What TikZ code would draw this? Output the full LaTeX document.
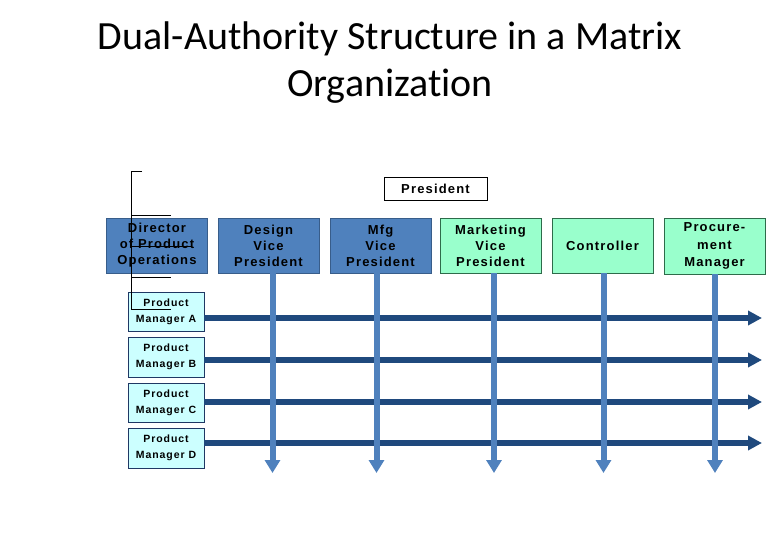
\documentclass[tikz,border=0pt]{standalone}
\usepackage{fontspec}
\usepackage{tikz}
\usetikzlibrary{positioning,calc,arrows.meta}
\usepackage{xcolor}
\newfontfamily\titlefont[Ligatures={NoCommon}]{Carlito}
\newfontfamily\boxfont[LetterSpace=9]{Liberation Sans}
\definecolor{vpblue}{HTML}{4F81BD}
\definecolor{vpedge}{HTML}{385D8A}
\definecolor{mint}{HTML}{99FFCC}
\definecolor{mintedge}{HTML}{2E6B4A}
\definecolor{pmcyan}{HTML}{CCFFFF}
\definecolor{pmedge}{HTML}{1F3864}
\definecolor{navy}{HTML}{1F497D}

\tikzset{
  topbox/.style={draw=vpedge,fill=vpblue,line width=0.8pt,minimum width=101pt,minimum height=55pt,
    align=center,inner sep=0pt,font=\boxfont\bfseries\fontsize{13}{16}\selectfont},
  greenbox/.style={topbox,draw=mintedge,fill=mint},
  pmbox/.style={draw=pmedge,fill=pmcyan,line width=0.8pt,minimum width=76pt,minimum height=39pt,
    align=center,inner sep=0pt,font=\boxfont\bfseries\fontsize{10.5}{16}\selectfont},
  vline/.style={line width=6pt,draw=vpblue,-{Triangle[width=15pt,length=13pt]}},
  hline/.style={line width=6pt,draw=navy,-{Triangle[width=14pt,length=14pt]}},
}

\begin{document}
\begin{tikzpicture}[x=1pt,y=-1pt]
  \useasboundingbox (0,0) rectangle (780,540);
  % title
  \node[font=\titlefont\fontsize{40}{44}\selectfont,anchor=base] (title) at (390,50) {Dual-Authority Structure in a Matrix};
  \node[font=\titlefont\fontsize{40}{44}\selectfont,anchor=base] (subtitle) at (390,97) {Organization};

  % top row
  \node[draw,line width=0.8pt,fill=white,minimum width=103pt,minimum height=23pt,inner sep=0pt,
    font=\boxfont\bfseries\fontsize{13}{16}\selectfont] (pres) at (435.5,188.5) {President};
  \node[topbox] (director) at (157,245.5) {Director\\of Product\\Operations};
  \node[topbox] (design) at (268.5,245.5) {Design\\Vice\\President};
  \node[topbox] (mfg) at (380.5,245.5) {Mfg\\Vice\\President};
  \node[greenbox] (marketing) at (490.5,245.5) {Marketing\\Vice\\President};
  \node[greenbox] (controller) at (602.5,245.5) {Controller};
  \node[greenbox,minimum height=56pt,font=\boxfont\bfseries\fontsize{13}{17.5}\selectfont] (procure) at (714.5,246) {Procure-\\ment\\Manager};

  % product managers
  \node[pmbox] (pmA) at (166,311.5) {Product\\Manager A};
  \node[pmbox,minimum height=40pt] (pmB) at (166,357) {Product\\Manager B};
  \node[pmbox] (pmC) at (166,402.5) {Product\\Manager C};
  \node[pmbox,minimum height=40pt] (pmD) at (166,448) {Product\\Manager D};

  % arrow ends
  \coordinate (aend) at (762,318);
  \coordinate (bend) at (762,360);
  \coordinate (cend) at (762,402);
  \coordinate (dend) at (762,443);
  \coordinate (desend) at (272.5,473);
  \coordinate (mfgend) at (376.5,473);
  \coordinate (mktend) at (494,473);
  \coordinate (ctlend) at (603.5,473);
  \coordinate (proend) at (715,473);

  % product lines
  \draw[hline] (pmA.east |- aend) -- (aend);
  \draw[hline] (pmB.east |- bend) -- (bend);
  \draw[hline] (pmC.east |- cend) -- (cend);
  \draw[hline] (pmD.east |- dend) -- (dend);

  % functional lines
  \draw[vline] (design.south -| desend) -- (desend);
  \draw[vline] (mfg.south -| mfgend) -- (mfgend);
  \draw[vline] (marketing.south -| mktend) -- (mktend);
  \draw[vline] (controller.south -| ctlend) -- (ctlend);
  \draw[vline] (procure.south -| proend) -- (proend);

  % bracket
  \coordinate (btop) at (131,172);
  \coordinate (bbot) at (131,310);
  \draw[line width=1pt] ($(btop)+(11,0)$) -- (btop) -- (bbot) -- ++(40,0);
  \draw[line width=1pt] (btop |- 0,216) -- ++(40,0);
  \draw[line width=1pt] (btop |- 0,278) -- ++(40,0);
  \draw[line width=1pt] (btop |- 0,247) -- ++(60,0);
\end{tikzpicture}
\end{document}
